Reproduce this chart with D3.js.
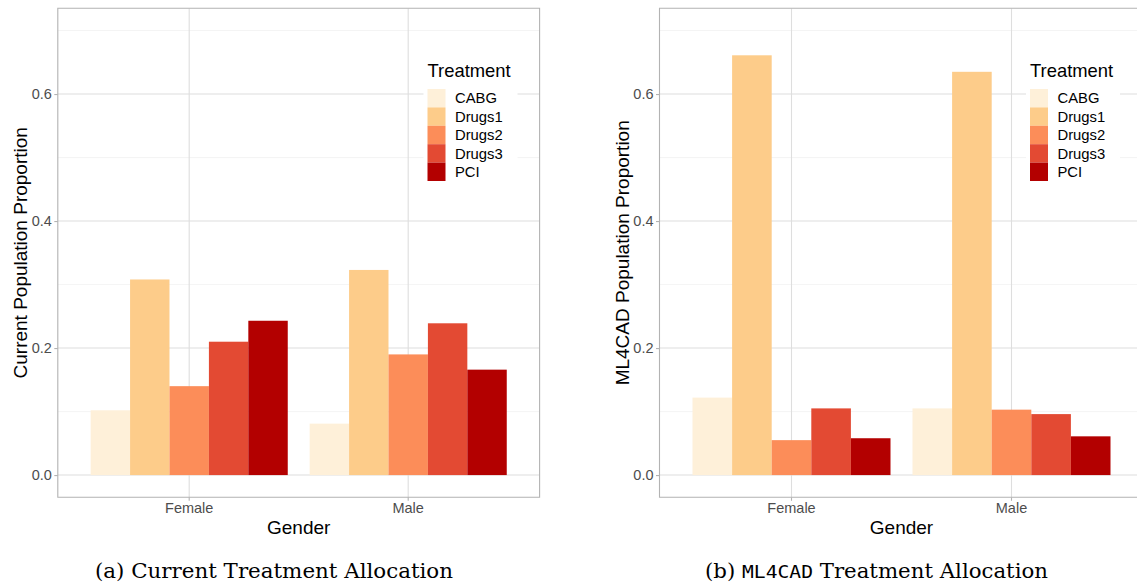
<!DOCTYPE html>
<html>
<head>
<meta charset="utf-8">
<script src="https://cdn.jsdelivr.net/npm/d3@7"></script>
<style>
  body { margin: 0; background: #fff; }
  svg { display: block; }
</style>
</head>
<body>
<svg id="chart"></svg>
<script>
// data
const genders = ["Female", "Male"];
const treatments = ["CABG", "Drugs1", "Drugs2", "Drugs3", "PCI"];
const currentFemale = [0.102, 0.308, 0.140, 0.210, 0.243];
const currentMale = [0.081, 0.323, 0.190, 0.239, 0.166];
const ml4cadFemale = [0.122, 0.661, 0.055, 0.105, 0.058];
const ml4cadMale = [0.105, 0.635, 0.103, 0.096, 0.061];
const majorTicks = [0, 0.2, 0.4, 0.6];
const minorTicks = [0.1, 0.3, 0.5, 0.7];
const colors = ["#fef0d9", "#fdcc8a", "#fc8d59", "#e34a33", "#b30000"];

const width = 1137;
const height = 588;
const sans = "'Liberation Sans', Arial, sans-serif";

const svg = d3.select("#chart")
  .attr("width", width)
  .attr("height", height);

const color = d3.scaleOrdinal().domain(treatments).range(colors);

function drawPanel(opts) {
  const rows = [];
  genders.forEach((g, i) => {
    treatments.forEach((t, j) => {
      rows.push({ gender: g, treatment: t, value: opts.values[i][j] });
    });
  });

  const x = d3.scaleBand()
    .domain(genders)
    .range([opts.left, opts.right])
    .paddingInner(0.1)
    .paddingOuter(0.15);
  const xSub = d3.scaleBand()
    .domain(treatments)
    .range([0, x.bandwidth()]);
  const y = d3.scaleLinear()
    .domain([-0.035, 0.735])
    .range([opts.bottom, opts.top]);

  const g = svg.append("g");
  const clipId = "clip" + opts.id;
  g.append("clipPath").attr("id", clipId)
    .append("rect")
    .attr("x", opts.left).attr("y", opts.top)
    .attr("width", opts.right - opts.left).attr("height", opts.bottom - opts.top);

  const panel = g.append("g").attr("clip-path", `url(#${clipId})`);

  // grid
  panel.selectAll(".minor")
    .data(minorTicks)
    .enter().append("line")
    .attr("x1", opts.left).attr("x2", opts.right)
    .attr("y1", d => y(d)).attr("y2", d => y(d))
    .attr("stroke", "#ececec").attr("stroke-width", 0.6);
  panel.selectAll(".major")
    .data(majorTicks)
    .enter().append("line")
    .attr("x1", opts.left).attr("x2", opts.right)
    .attr("y1", d => y(d)).attr("y2", d => y(d))
    .attr("stroke", "#dedede").attr("stroke-width", 1.1);
  panel.selectAll(".vgrid")
    .data(genders)
    .enter().append("line")
    .attr("x1", d => x(d) + x.bandwidth() / 2).attr("x2", d => x(d) + x.bandwidth() / 2)
    .attr("y1", opts.top).attr("y2", opts.bottom)
    .attr("stroke", "#dedede").attr("stroke-width", 1.1);

  // bars
  panel.selectAll(".bar")
    .data(rows)
    .enter().append("rect")
    .attr("x", d => x(d.gender) + xSub(d.treatment))
    .attr("y", d => y(d.value))
    .attr("width", xSub.bandwidth())
    .attr("height", d => y(0) - y(d.value))
    .attr("fill", d => color(d.treatment));

  // legend
  const lx = opts.legendX;
  const legend = panel.append("g");
  legend.append("rect")
    .attr("x", lx - 4).attr("y", 56)
    .attr("width", 94).attr("height", 131)
    .attr("fill", "#fff");
  legend.append("text")
    .attr("x", lx).attr("y", 77)
    .attr("font-family", sans).attr("font-size", 18.4)
    .attr("fill", "#000")
    .text("Treatment");
  const keyH = 18.4;
  legend.selectAll(".key")
    .data(treatments)
    .enter().append("rect")
    .attr("x", lx).attr("y", (d, i) => 89 + i * keyH)
    .attr("width", 18).attr("height", keyH)
    .attr("fill", d => color(d));
  legend.selectAll(".klab")
    .data(treatments)
    .enter().append("text")
    .attr("x", lx + 27.5).attr("y", (d, i) => 89 + i * keyH + keyH / 2 + 5.2)
    .attr("font-family", sans).attr("font-size", 14.8)
    .attr("fill", "#000")
    .text(d => d);

  // border
  g.append("path")
    .attr("d", `M${opts.right},${opts.top}H${opts.left}V${opts.bottom}H${opts.right}` +
      (opts.closeRight ? "Z" : ""))
    .attr("fill", "none").attr("stroke", "#b3b3b3").attr("stroke-width", 1.1);

  // y axis
  const yAxis = g.append("g")
    .attr("transform", `translate(${opts.left},0)`)
    .call(d3.axisLeft(y).tickValues(majorTicks).tickFormat(d3.format(".1f")).tickSize(3.5).tickPadding(2.5));
  yAxis.select(".domain").remove();
  yAxis.selectAll(".tick line").attr("stroke", "#b3b3b3").attr("stroke-width", 1.1);
  yAxis.selectAll(".tick text")
    .attr("font-family", sans).attr("font-size", 14.5).attr("fill", "#4d4d4d");

  // x axis
  const xAxis = g.append("g")
    .attr("transform", `translate(0,${opts.bottom})`)
    .call(d3.axisBottom(x).tickSize(3.5).tickPadding(2));
  xAxis.select(".domain").remove();
  xAxis.selectAll(".tick line").attr("stroke", "#b3b3b3").attr("stroke-width", 1.1);
  xAxis.selectAll(".tick text")
    .attr("font-family", sans).attr("font-size", 14.5).attr("fill", "#4d4d4d");

  // titles
  g.append("text")
    .attr("x", (opts.left + opts.right) / 2).attr("y", 534)
    .attr("text-anchor", "middle")
    .attr("font-family", sans).attr("font-size", 19)
    .attr("fill", "#000")
    .text("Gender");
  g.append("text")
    .attr("transform", `translate(${opts.left - 31},${(opts.top + opts.bottom) / 2}) rotate(-90)`)
    .attr("text-anchor", "middle")
    .attr("font-family", sans).attr("font-size", 19)
    .attr("fill", "#000")
    .text(opts.yTitle);
}

drawPanel({
  id: "a", left: 57.8, right: 539.6, top: 8.3, bottom: 497.3,
  values: [currentFemale, currentMale],
  yTitle: "Current Population Proportion",
  legendX: 427.5, closeRight: true
});
drawPanel({
  id: "b", left: 659.5, right: 1143.5, top: 8.3, bottom: 497.3,
  values: [ml4cadFemale, ml4cadMale],
  yTitle: "ML4CAD Population Proportion",
  legendX: 1030, closeRight: false
});

// captions
const serif = "'DejaVu Serif', 'Liberation Serif', serif";
svg.append("text")
  .attr("x", 95).attr("y", 578)
  .attr("font-family", serif).attr("font-size", 19.5)
  .attr("textLength", 358).attr("lengthAdjust", "spacingAndGlyphs")
  .attr("fill", "#000")
  .text("(a) Current Treatment Allocation");

const cap = svg.append("text")
  .attr("x", 705).attr("y", 578)
  .attr("font-family", serif).attr("font-size", 19.5)
  .attr("fill", "#000");
cap.append("tspan").text("(b) ");
cap.append("tspan").attr("font-family", "'DejaVu Sans Mono', 'Liberation Mono', monospace")
  .attr("font-size", 18).text("ML4CAD");
cap.append("tspan").text(" Treatment Allocation");
const w = cap.node().getComputedTextLength();
cap.attr("textLength", 343).attr("lengthAdjust", "spacingAndGlyphs");
</script>
</body>
</html>
